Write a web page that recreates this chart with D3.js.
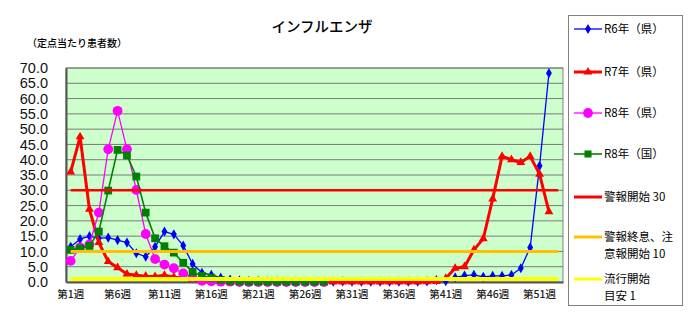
<!DOCTYPE html>
<html>
<head>
<meta charset="utf-8">
<script src="https://cdn.jsdelivr.net/npm/d3@7"></script>
<style>
  body { margin: 0; background: #fff; }
  svg { display: block; }
</style>
</head>
<body>
<div id="chart"></div>
<script>
// 週（第1週〜第53週）
let weeks = d3.range(1, 54);
let yTicks = d3.range(0, 70.1, 5);
let xLabelWeeks = [1, 6, 11, 16, 21, 26, 31, 36, 41, 46, 51];

// R6年（県）
let r6 = [11.5, 14.0, 15.0, 14.3, 14.5, 13.7, 12.9, 9.4, 8.3, 11.5,
  16.5, 15.6, 11.9, 5.9, 3.0, 2.3, 1.4, 0.8, 0.5, 0.3,
  0.3, 0.2, 0.2, 0.1, 0.1, 0.1, 0.1, 0.1, 0.1, 0.2,
  0.1, 0.1, 0.1, 0.1, 0.1, 0.1, 0.1, 0.1, 0.2, 0.6,
  0.3, 1.5, 2.1, 2.3, 1.7, 2.0, 2.0, 2.3, 4.5, 11.3,
  38.0, 68.3];
// R7年（県）
let r7 = [36.0, 47.5, 23.8, 12.9, 6.7, 4.7, 2.6, 2.2, 1.9, 1.8,
  2.2, 1.6, 1.2, 0.8, 0.4, 0.2, 0.1, 0.1, 0.1, 0.1,
  0.0, 0.0, 0.0, 0.0, 0.0, 0.0, 0.0, 0.0, 0.0, 0.0,
  0.0, 0.0, 0.0, 0.0, 0.0, 0.0, 0.0, 0.0, 0.1, 0.2,
  1.2, 4.5, 5.0, 10.5, 14.2, 27.2, 41.1, 40.0, 39.1, 41.1,
  35.3, 23.0];
// R8年（県）
let r8pref = [6.9, 11.3, 12.3, 22.7, 43.4, 56.0, 43.4, 30.1, 15.7, 7.5,
  5.7, 4.5, 2.8, 1.5, 0.4, 0.2, 0.1, 0.1, 0.0, 0.0,
  0.0, 0.0, 0.0, 0.0, 0.0, 0.0, 0.0, 0.0];
// R8年（国）
let r8nat = [10.5, 11.0, 11.8, 16.5, 29.9, 43.2, 41.4, 34.5, 22.7, 14.3,
  11.7, 9.6, 6.3, 3.3, 2.0, 1.4, 0.7, 0.3, 0.2, 0.1,
  0.1, 0.1, 0.1, 0.1, 0.1, 0.1, 0.1, 0.1];
// 基準線
let levels = [30, 10, 1];

let width = 690, height = 314;
let margin = {left: 66, right: 127, top: 68, bottom: 32};

let svg = d3.select("#chart").append("svg")
  .attr("width", width)
  .attr("height", height);

let x = d3.scaleBand()
  .domain(weeks)
  .range([margin.left, width - margin.right]);
let y = d3.scaleLinear()
  .domain([0, 70])
  .range([height - margin.bottom, margin.top]);
let cx = function (w) { return x(w) + x.bandwidth() / 2; };

// 背景
svg.append("rect")
  .attr("x", margin.left).attr("y", margin.top)
  .attr("width", width - margin.right - margin.left)
  .attr("height", y(0) - margin.top)
  .attr("fill", "#ccffcc")
  .attr("stroke", "#808080");

// 目盛線
svg.append("g").selectAll("line")
  .data(yTicks.slice(1))
  .enter().append("line")
  .attr("x1", margin.left).attr("x2", width - margin.right)
  .attr("y1", d => y(d)).attr("y2", d => y(d))
  .attr("stroke", "#7a7a7a").attr("stroke-width", 1);

// 軸
let yAxis = svg.append("g")
  .attr("transform", "translate(" + margin.left + ",0)")
  .call(d3.axisLeft(y).tickValues(yTicks).tickFormat(d3.format(".1f")).tickSize(0).tickPadding(18));
yAxis.select(".domain").attr("stroke", "#555").attr("stroke-width", 2);
yAxis.selectAll("text")
  .attr("font-family", "'Liberation Sans', Arial, sans-serif")
  .attr("font-size", 14.5).attr("fill", "#111");

let xAxis = svg.append("g")
  .attr("transform", "translate(0," + y(0) + ")")
  .call(d3.axisBottom(x).tickValues(xLabelWeeks).tickFormat(d => "第" + d + "週").tickSize(0).tickPadding(9));
xAxis.select(".domain").attr("stroke", "#555").attr("stroke-width", 2);
xAxis.selectAll("text")
  .attr("font-family", "'Noto Sans CJK JP', sans-serif")
  .attr("font-size", 10.5).attr("font-weight", 500).attr("fill", "#222");

// 系列
let series = [
  {data: r6, color: "#0000ff", width: 1.3, shape: d3.symbolDiamond, size: 30},
  {data: r7, color: "#ff0000", width: 3, shape: d3.symbolTriangle, size: 34},
  {data: r8pref, color: "#ff00ff", width: 1.3, shape: d3.symbolCircle, size: 75},
  {data: r8nat, color: "#008000", width: 1.6, shape: d3.symbolSquare, size: 60}
];

let line = d3.line()
  .x((d, i) => cx(weeks[i]))
  .y(d => y(d));

series.forEach(function (s) {
  let g = svg.append("g");
  g.append("path")
    .attr("d", line(s.data))
    .attr("fill", "none")
    .attr("stroke", s.color)
    .attr("stroke-width", s.width)
    .attr("stroke-linejoin", "round");
  g.selectAll("path.mk")
    .data(s.data)
    .enter().append("path")
    .attr("class", "mk")
    .attr("d", d3.symbol().type(s.shape).size(s.size))
    .attr("transform", (d, i) => "translate(" + cx(weeks[i]) + "," + y(d) + ")")
    .attr("fill", s.color);
});

// 基準線
let levelStyles = [
  {color: "#ff0000", width: 2.5},
  {color: "#ffc000", width: 3},
  {color: "#ffff00", width: 4}
];
levels.forEach(function (v, i) {
  svg.append("line")
    .attr("x1", cx(weeks[0])).attr("x2", cx(weeks[weeks.length - 1]))
    .attr("y1", y(v)).attr("y2", y(v))
    .attr("stroke", levelStyles[i].color)
    .attr("stroke-width", levelStyles[i].width);
});

// タイトル
svg.append("text")
  .attr("x", 322).attr("y", 32)
  .attr("text-anchor", "middle")
  .attr("font-family", "'Noto Sans CJK JP', sans-serif")
  .attr("font-size", 14.5).attr("font-weight", 500)
  .text("インフルエンザ");
svg.append("text")
  .attr("x", 27).attr("y", 47)
  .attr("font-family", "'Noto Sans CJK JP', sans-serif")
  .attr("font-size", 10).attr("font-weight", 500)
  .text("（定点当たり患者数）");

// 凡例
let legendItems = [
  {label: ["R6年（県）"], color: "#0000ff", width: 1.3, shape: d3.symbolDiamond, size: 30},
  {label: ["R7年（県）"], color: "#ff0000", width: 3, shape: d3.symbolTriangle, size: 34},
  {label: ["R8年（県）"], color: "#ff00ff", width: 1.3, shape: d3.symbolCircle, size: 75},
  {label: ["R8年（国）"], color: "#008000", width: 1.6, shape: d3.symbolSquare, size: 50},
  {label: ["警報開始 30"], color: "#ff0000", width: 3},
  {label: ["警報終息、注", "意報開始 10"], color: "#ffc000", width: 3},
  {label: ["流行開始", "目安 1"], color: "#ffff00", width: 3}
];
let legendY = [29, 72, 113, 154, 197, 237, 279];

svg.append("rect")
  .attr("x", 568.5).attr("y", 15.5)
  .attr("width", 114).attr("height", 290)
  .attr("fill", "#fff").attr("stroke", "#808080");

let lg = svg.append("g");
legendItems.forEach(function (it, i) {
  let ly = legendY[i];
  lg.append("line")
    .attr("x1", 574).attr("x2", 602)
    .attr("y1", ly).attr("y2", ly)
    .attr("stroke", it.color).attr("stroke-width", it.width);
  if (it.shape) {
    lg.append("path")
      .attr("d", d3.symbol().type(it.shape).size(it.size))
      .attr("transform", "translate(588," + ly + ")")
      .attr("fill", it.color);
  }
  it.label.forEach(function (t, j) {
    lg.append("text")
      .attr("x", 604).attr("y", ly + j * 17)
      .attr("dy", "0.36em")
      .attr("font-family", "'Noto Sans CJK JP', sans-serif")
      .attr("font-size", 11.5)
      .text(t);
  });
});
</script>
</body>
</html>
